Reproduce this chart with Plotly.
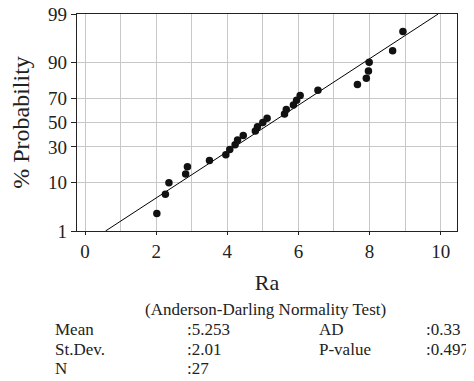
import plotly.graph_objects as go
from statistics import NormalDist

# Data
ra_values = [2.02, 2.26, 2.36, 2.83, 2.88, 3.50, 3.96, 4.07, 4.22, 4.29, 4.45,
             4.79, 4.85, 5.00, 5.12, 5.61, 5.66, 5.86, 5.95, 6.05, 6.55, 7.66,
             7.91, 7.97, 7.99, 8.65, 8.94]
pct_values = [2.55, 6.20, 9.85, 13.50, 17.15, 20.80, 24.45, 28.10, 31.75, 35.40,
              39.05, 42.70, 46.35, 50.00, 53.65, 57.30, 60.95, 64.60, 68.25,
              71.90, 75.55, 79.20, 82.85, 86.50, 90.15, 93.80, 97.45]
prob_ticks = [1, 10, 30, 50, 70, 90, 99]
x_ticks = [0, 2, 4, 6, 8, 10]
fit_mean = 5.253
fit_sd = 2.01
stat_labels = ["Mean", "St.Dev.", "N"]
stat_values = [":5.253", ":2.01", ":27"]
test_labels = ["AD", "P-value"]
test_values = [":0.33", ":0.497"]

nd = NormalDist()
z_pts = [nd.inv_cdf(p / 100) for p in pct_values]
z_ticks = [nd.inv_cdf(p / 100) for p in prob_ticks]
z_lo, z_hi = z_ticks[0], z_ticks[-1]
line_z = [z_lo, z_hi]
line_x = [fit_mean + fit_sd * z for z in line_z]

# page body has an 8px margin: lay out in figure coords = screen - 8
OFF = 8
W, H = 474 - OFF, 381 - OFF
L, R, T, B = 77 - OFF, 17, 14 - OFF, 150
pw, ph = W - L - R, H - T - B

FONT = "Liberation Serif"
GRID = "#c8c8c8"

fig = go.Figure()
fig.add_trace(go.Scatter(x=line_x, y=line_z, mode="lines",
                         line=dict(color="black", width=1), showlegend=False,
                         hoverinfo="skip"))
fig.add_trace(go.Scatter(x=ra_values, y=z_pts, mode="markers",
                         marker=dict(color="#111111", size=7.5), showlegend=False))

fig.update_layout(
    width=W, height=H,
    margin=dict(l=L, r=R, t=T, b=B, autoexpand=False),
    paper_bgcolor="white", plot_bgcolor="white",
    font=dict(family=FONT, color="#222222"),
)
fig.update_xaxes(
    range=[-0.225, 10.46], tickvals=x_ticks, ticktext=[str(v) for v in x_ticks],
    showgrid=True, gridcolor=GRID, gridwidth=1,
    minor=dict(dtick=1, tick0=0, showgrid=True, gridcolor=GRID, gridwidth=1),
    showline=True, linecolor="#222222", linewidth=1.3, mirror=True,
    ticks="outside", ticklen=3, tickcolor="#222222",
    tickfont=dict(size=19, family=FONT), ticklabeloverflow="allow",
    title=dict(text="Ra", font=dict(size=22, family=FONT), standoff=13),
    zeroline=False,
)
fig.update_yaxes(
    range=[z_lo, z_hi], tickvals=z_ticks, ticktext=[str(v) for v in prob_ticks],
    showgrid=True, gridcolor=GRID, gridwidth=1,
    showline=True, linecolor="#222222", linewidth=1.3, mirror=True,
    ticks="outside", ticklen=5, tickcolor="#222222",
    tickfont=dict(size=19, family=FONT), ticklabeloverflow="allow",
    title=dict(text="% Probability", font=dict(size=24, family=FONT), standoff=11),
    zeroline=False,
)

def px_to_paper(x, y):
    x -= OFF
    y -= OFF
    return (x - L) / pw, (H - B - y) / ph

def add_text(text, x, y, anchor="left"):
    px, py = px_to_paper(x, y)
    fig.add_annotation(text=text, x=px, y=py, xref="paper", yref="paper",
                       xanchor=anchor, yanchor="middle", showarrow=False,
                       borderpad=0,
                       font=dict(size=17, family=FONT, color="#222222"))

add_text("(Anderson-Darling Normality Test)", 265, 310, anchor="center")
row_y = [329, 349, 368]
for i, (lab, val) in enumerate(zip(stat_labels, stat_values)):
    add_text(lab, 54, row_y[i])
    add_text(val, 186, row_y[i])
for i, (lab, val) in enumerate(zip(test_labels, test_values)):
    add_text(lab, 318, row_y[i])
    add_text(val, 425, row_y[i])

fig.write_html("out.html")
